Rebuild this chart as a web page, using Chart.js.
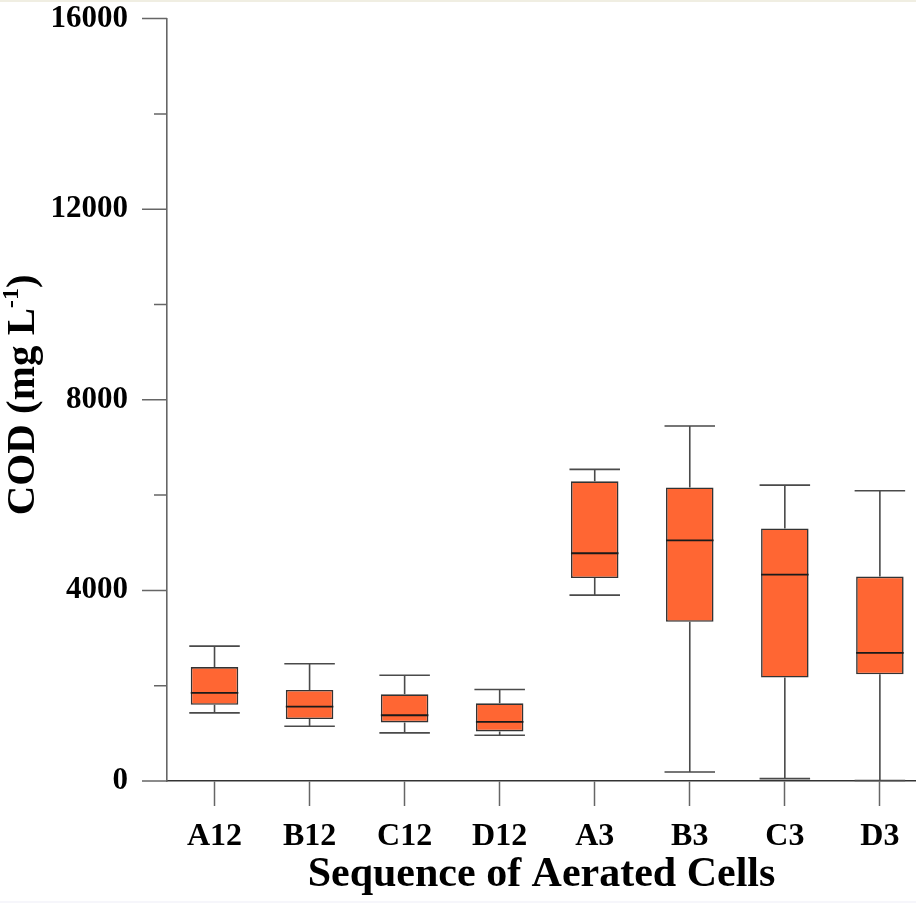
<!DOCTYPE html>
<html>
<head>
<meta charset="utf-8">
<script src="https://cdn.jsdelivr.net/npm/chart.js@4"></script>
<style>
  html, body { margin: 0; padding: 0; background: #fff; }
  #wrap     { position: relative; width: 916px; height: 903px; }
  #edge-top { position: absolute; left: 0; top: 0;    width: 916px; height: 2px; background: #f0eee2; }
  #edge-bot { position: absolute; left: 0; bottom: 0; width: 916px; height: 2px; background: #f6f6fb; }
</style>
</head>
<body>
<div id="wrap">
  <canvas id="cod-chart"></canvas>
  <div id="edge-top"></div>
  <div id="edge-bot"></div>
</div>
<script>
'use strict';

// ── Data (COD, mg/L) ───────────────────────────────────
const cells     = ['A12', 'B12', 'C12', 'D12', 'A3', 'B3', 'C3', 'D3'];
const whiskerHi = [2830, 2460, 2220, 1920, 6540, 7450, 6210, 6090];
const q3        = [2390, 1910, 1820, 1630, 6290, 6160, 5300, 4290];
const median    = [1850, 1560, 1380, 1240, 4780, 5050, 4330, 2690];
const q1        = [1600, 1300, 1230, 1040, 4260, 3340, 2170, 2240];
const whiskerLo = [1430, 1150, 1010,  960, 3900,  190,   50,   10];

const yMajor = [0, 4000, 8000, 12000, 16000];
const yMinor = [2000, 6000, 10000, 14000];

const SERIF = '"Liberation Serif", "Times New Roman", serif';

// ── Plugins ────────────────────────────────────────────

// whiskers, caps and medians on top of the floating bars
const boxExtras = {
  id: 'boxExtras',
  afterDatasetsDraw(chart) {
    const { ctx, scales: { x, y } } = chart;
    const bars = chart.getDatasetMeta(0).data;
    ctx.save();
    bars.forEach((bar, i) => {
      const cx   = x.getPixelForValue(i);
      const half = bar.width / 2;
      const yHi  = y.getPixelForValue(whiskerHi[i]);
      const yLo  = y.getPixelForValue(whiskerLo[i]);

      ctx.strokeStyle = '#4a4a4a';
      ctx.lineWidth   = 1.6;
      ctx.beginPath();
      ctx.moveTo(cx, y.getPixelForValue(q3[i])); ctx.lineTo(cx, yHi);
      ctx.moveTo(cx, y.getPixelForValue(q1[i])); ctx.lineTo(cx, yLo);
      ctx.moveTo(cx - half - 1.5, yHi); ctx.lineTo(cx + half + 1.5, yHi);
      ctx.moveTo(cx - half - 1.5, yLo); ctx.lineTo(cx + half + 1.5, yLo);
      ctx.stroke();

      const yMed = y.getPixelForValue(median[i]);
      ctx.strokeStyle = '#1a1a1a';
      ctx.lineWidth   = 1.8;
      ctx.beginPath();
      ctx.moveTo(cx - half, yMed); ctx.lineTo(cx + half, yMed);
      ctx.stroke();
    });
    ctx.restore();
  },
};

// y ticks (long major / short minor) + y title with superscript
const axisExtras = {
  id: 'axisExtras',
  afterDraw(chart) {
    const { ctx, scales: { y } } = chart;
    ctx.save();
    ctx.strokeStyle = '#666';
    ctx.lineWidth   = 1.5;
    ctx.beginPath();
    yMajor.forEach(v => {
      const py = y.getPixelForValue(v);
      ctx.moveTo(y.right - 25, py);
      ctx.lineTo(y.right, py);
    });
    yMinor.forEach(v => {
      const py = y.getPixelForValue(v);
      ctx.moveTo(y.right - 13, py);
      ctx.lineTo(y.right, py);
    });
    ctx.stroke();

    // "COD (mg L-1)" rotated
    const main = 'COD (mg L', sup = '-1', close = ')';
    const fMain = `bold 41px ${SERIF}`;
    const fSup  = `bold 24px ${SERIF}`;
    ctx.font = fMain;
    const w1 = ctx.measureText(main).width;
    const w3 = ctx.measureText(close).width;
    ctx.font = fSup;
    const w2 = ctx.measureText(sup).width;
    const total = w1 + w2 + w3;

    const midY = (y.top + y.bottom) / 2;
    ctx.translate(34, midY - 5);
    ctx.rotate(-Math.PI / 2);
    ctx.fillStyle    = '#000';
    ctx.textBaseline = 'alphabetic';
    ctx.textAlign    = 'left';
    let px = -total / 2;
    ctx.font = fMain; ctx.fillText(main, px, 0);  px += w1;
    ctx.font = fSup;  ctx.fillText(sup, px, -16); px += w2;
    ctx.font = fMain; ctx.fillText(close, px, 0);
    ctx.restore();
  },
};

// ── Chart ──────────────────────────────────────────────
new Chart(document.getElementById('cod-chart'), {
  type: 'bar',
  data: {
    datasets: [{
      label: 'COD',
      data: cells.map((c, i) => ({ x: i, y: [q1[i], q3[i]] })),
      backgroundColor: '#ff6633',
      borderColor:     '#333',
      borderWidth:     1.6,
      borderSkipped:   false,
      barPercentage:      0.5,
      categoryPercentage: 1.0,
    }],
  },
  options: {
    responsive: true,
    maintainAspectRatio: false,
    animation: false,
    layout: { padding: 0 },
    plugins: { legend: { display: false }, tooltip: { enabled: false } },
    scales: {
      x: {
        type: 'linear',
        min: -0.5,
        max: 7.38,
        offset: false,
        afterBuildTicks: ax => { ax.ticks = cells.map((c, i) => ({ value: i })); },
        afterFit: ax => { ax.height = 122; },
        grid:   { drawOnChartArea: false, offset: false, tickLength: 25, tickColor: '#666', tickWidth: 1.5 },
        border: { color: '#333', width: 1.6 },
        ticks: {
          autoSkip: false,
          maxRotation: 0,
          padding: 12,
          color: '#000',
          font: { family: SERIF, size: 32, weight: 'bold' },
          callback: v => cells[v] ?? '',
        },
        title: {
          display: true,
          text: 'Sequence of Aerated Cells',
          color: '#000',
          font: { family: SERIF, size: 42, weight: 'bold' },
          padding: { top: 0, bottom: 3 },
        },
      },
      y: {
        min: 0,
        max: 16000,
        afterBuildTicks: ax => { ax.ticks = yMajor.map(v => ({ value: v })); },
        afterFit: ax => { ax.width = 167; },
        // tick marks drawn by axisExtras; the gap keeps labels clear of them
        grid:   { drawOnChartArea: false, tickLength: 39, tickColor: 'rgba(0,0,0,0)' },
        border: { color: '#666', width: 1.6 },
        ticks: {
          padding: 0,
          color: '#000',
          font: { family: SERIF, size: 31, weight: 'bold' },
          callback: v => String(v),
        },
      },
    },
  },
  plugins: [boxExtras, axisExtras],
});
</script>
</body>
</html>
